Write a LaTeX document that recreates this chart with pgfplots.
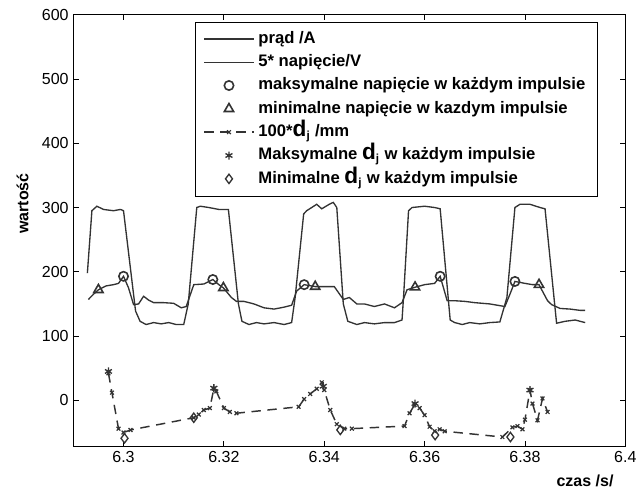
\documentclass[border=0pt]{standalone}
\usepackage{fontspec}
\setmainfont{Liberation Sans}
\usepackage{pgfplots}
\pgfplotsset{compat=1.18}
\definecolor{ln}{gray}{0.2}
\begin{document}
\begin{tikzpicture}
\useasboundingbox (-55pt,-31pt) rectangle (428pt,335pt);
\begin{axis}[
 at={(0,0)}, anchor=south west,
 scale only axis, width=414pt, height=324pt,
 xmin=6.29, xmax=6.4, ymin=-72, ymax=600,
 xtick={6.3,6.32,6.34,6.36,6.38,6.4},
 xticklabels={6.3,6.32,6.34,6.36,6.38,6.4},
 ytick={0,100,200,300,400,500,600},
 tick align=inside, tick pos=both,
 major tick length=4pt,
 tick style={black, line width=0.6pt},
 axis line style={black, line width=0.9pt},
 ticklabel style={font=\fontsize{12}{14}\selectfont},
 /pgf/number format/assume math mode=true,
 xlabel={czas /s/}, ylabel={wartość},
 every axis x label/.style={at={(axis description cs:0.927,0)}, yshift=-25.5pt, anchor=center, font=\fontsize{12}{14}\selectfont\bfseries},
 every axis y label/.style={at={(axis description cs:-0.092,0.5625)}, rotate=90, anchor=center, font=\fontsize{12}{14}\selectfont\bfseries},
 legend image code/.code={\draw[mark repeat=2,mark phase=2,#1] plot coordinates {(0cm,0cm) (0.65cm,0cm) (1.3cm,0cm)};},
 legend style={at={(axis description cs:0.221,0.984)}, anchor=north west, draw=black,
   font=\fontsize{12.5}{14}\selectfont\bfseries, row sep=0pt, inner xsep=6pt, inner ysep=4pt,
   nodes={text height=10pt, text depth=3.5pt, inner ysep=2pt, inner xsep=3pt}},
 legend cell align=left,
]
% prad
\addplot[ln, line width=1pt] coordinates {
(6.2928,198) (6.2937,295) (6.2947,302) (6.2960,297) (6.2980,295) (6.2994,297) (6.3000,295) (6.3024,139) (6.3033,123) (6.3045,118) (6.3060,121) (6.3075,119) (6.3090,121) (6.3105,118) (6.3120,118) (6.3129,150) (6.3146,300) (6.3153,302) (6.3170,300) (6.3190,297) (6.3209,297) (6.3229,150) (6.3236,123) (6.3250,118) (6.3265,121) (6.3280,119) (6.3300,121) (6.3320,118) (6.3335,121) (6.3342,160) (6.3359,290) (6.3365,295) (6.3385,305) (6.3395,298) (6.3410,305) (6.3418,308) (6.3425,300) (6.3438,150) (6.3447,123) (6.3465,118) (6.3480,121) (6.3500,119) (6.3520,121) (6.3540,121) (6.3555,125) (6.3558,160) (6.3568,295) (6.3575,300) (6.3600,302) (6.3620,300) (6.3631,298) (6.3651,125) (6.3660,121) (6.3675,118) (6.3690,121) (6.3710,119) (6.3730,121) (6.3750,122) (6.3764,160) (6.3780,300) (6.3790,305) (6.3810,305) (6.3830,300) (6.3840,298) (6.3863,120) (6.3880,123) (6.3900,125) (6.3920,121)
};
\addlegendentry{prąd /A}
% napiecie
\addplot[ln, line width=1pt] coordinates {
(6.2930,157) (6.2940,165) (6.2950,172) (6.2965,178) (6.2980,180) (6.2990,182) (6.3000,193) (6.3010,175) (6.3020,149) (6.3030,150) (6.3040,162) (6.3050,156) (6.3060,152) (6.3080,152) (6.3100,151) (6.3115,144) (6.3125,146) (6.3140,180) (6.3160,181) (6.3178,188) (6.3190,180) (6.3199,175) (6.3215,160) (6.3225,154) (6.3240,154) (6.3260,150) (6.3280,144) (6.3300,142) (6.3320,145) (6.3335,148) (6.3345,170) (6.3360,180) (6.3382,177) (6.3400,177) (6.3420,177) (6.3438,157) (6.3450,160) (6.3465,150) (6.3480,150) (6.3500,146) (6.3520,150) (6.3540,144) (6.3555,152) (6.3565,172) (6.3581,176) (6.3600,180) (6.3620,182) (6.3631,193) (6.3645,155) (6.3660,155) (6.3680,154) (6.3700,152) (6.3730,150) (6.3760,146) (6.3770,165) (6.3780,185) (6.3800,182) (6.3815,180) (6.3828,180) (6.3845,155) (6.3853,149) (6.3870,143) (6.3890,142) (6.3910,140) (6.3920,140)
};
\addlegendentry{5* napięcie/V}
\addplot[only marks, mark=o, mark size=3.5pt, mark options={ln, line width=1.2pt}] coordinates {
(6.3000,193) (6.3178,188) (6.3360,180) (6.3631,193) (6.3780,185)
};
\addlegendentry{maksymalne napięcie w każdym impulsie}
\addplot[only marks, mark=triangle, mark size=4pt, mark options={ln, line width=1.2pt}] coordinates {
(6.2950,172) (6.3199,175) (6.3382,177) (6.3581,176) (6.3828,180)
};
\addlegendentry{minimalne napięcie w kazdym impulsie}
\addplot[ln, line width=1.1pt, dash pattern=on 7pt off 5pt, mark=x, mark size=2pt, mark options={solid, line width=0.9pt}] coordinates {
(6.2970,42) (6.2977,12) (6.2990,-44) (6.3000,-50) (6.3014,-46) (6.3140,-27) (6.3150,-22) (6.3160,-15) (6.3172,-12) (6.3180,18) (6.3185,14) (6.3200,-12) (6.3212,-18) (6.3225,-20) (6.3349,-10) (6.3360,2) (6.3372,10) (6.3385,18) (6.3395,28) (6.3400,16) (6.3412,-15) (6.3425,-37) (6.3440,-44) (6.3455,-44) (6.3560,-40) (6.3570,-20) (6.3580,-7) (6.3590,-12) (6.3600,-23) (6.3610,-41) (6.3620,-48) (6.3630,-45) (6.3640,-48) (6.3755,-57) (6.3775,-42) (6.3785,-40) (6.3795,-45) (6.3800,-30) (6.3810,16) (6.3815,-5) (6.3825,-31) (6.3835,3) (6.3845,-18)
};
\addlegendentry{100*{\fontsize{17}{17}\selectfont d}\textsubscript{j} /mm}
\addplot[only marks, mark=asterisk, mark size=3pt, mark options={ln, line width=1pt}] coordinates {
(6.2970,45) (6.3180,19) (6.3398,22) (6.3581,-5) (6.3810,16)
};
\addlegendentry{Maksymalne {\fontsize{17}{17}\selectfont d}\textsubscript{j} w każdym impulsie}
\addplot[only marks, mark=diamond, mark size=3.5pt, mark options={ln, line width=1pt}] coordinates {
(6.3002,-59) (6.3140,-27) (6.3432,-46) (6.3621,-54) (6.3771,-57)
};
\addlegendentry{Minimalne {\fontsize{17}{17}\selectfont d}\textsubscript{j} w każdym impulsie}
\end{axis}
\end{tikzpicture}
\end{document}
